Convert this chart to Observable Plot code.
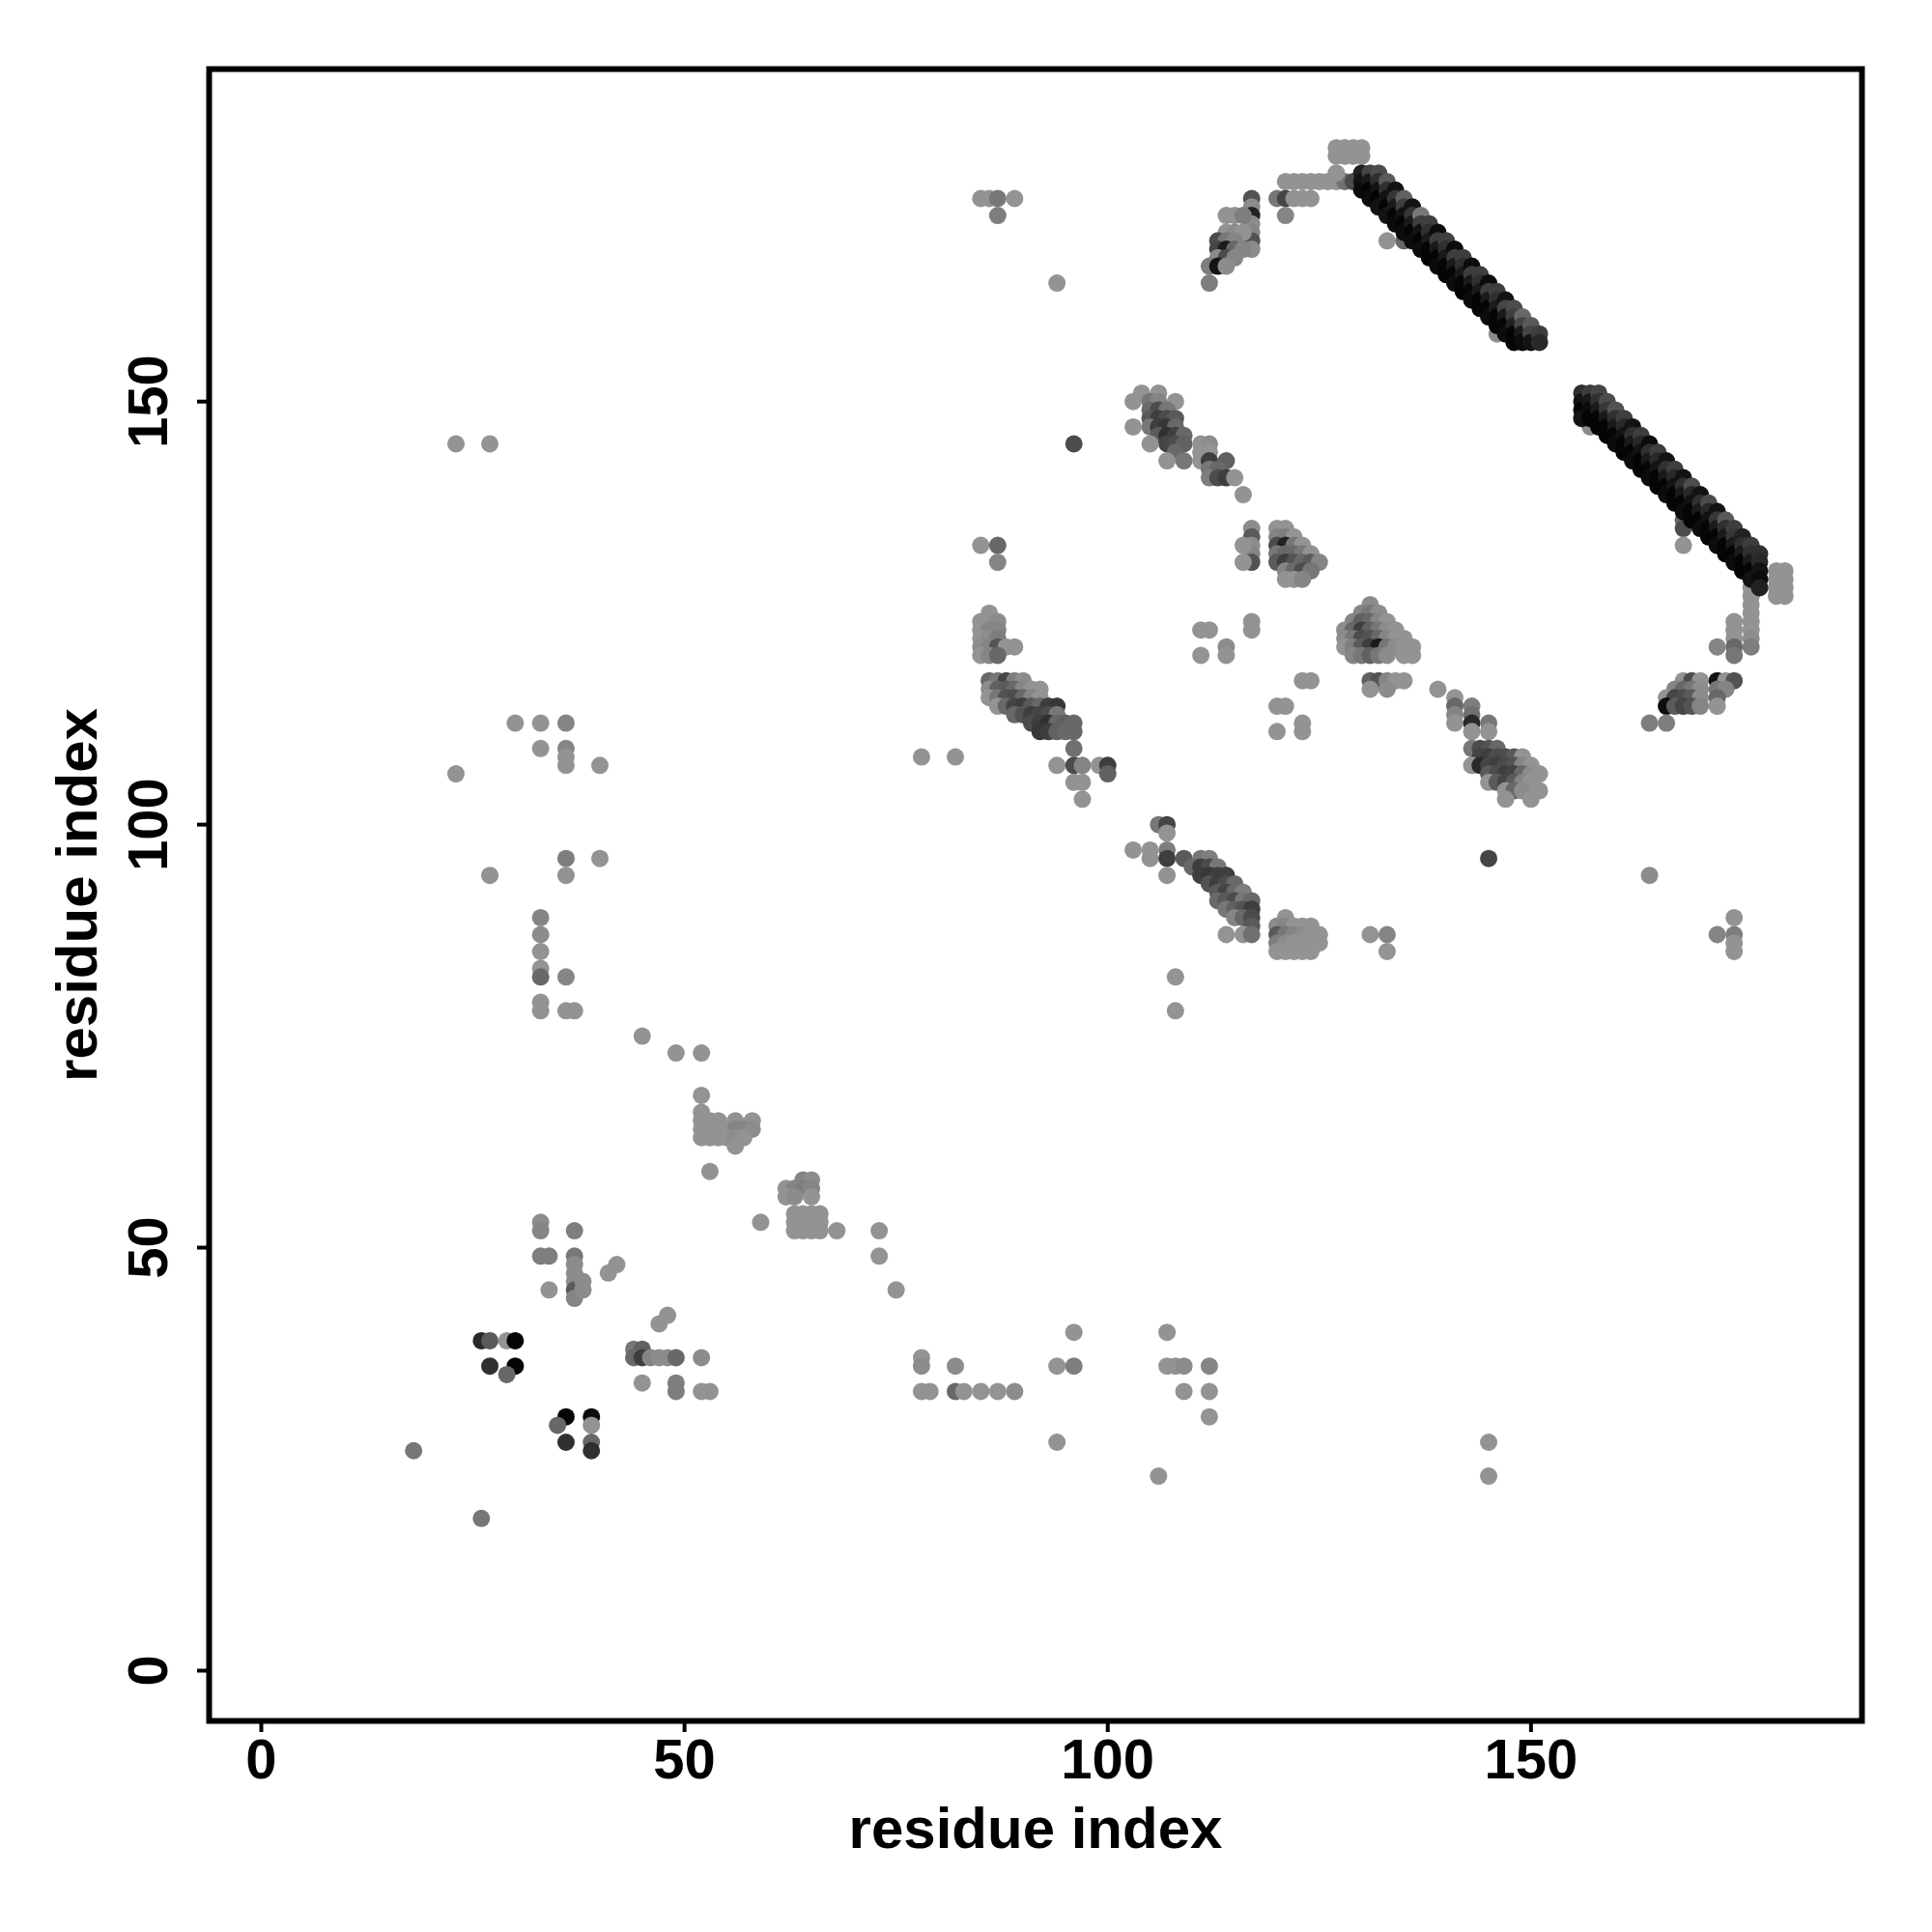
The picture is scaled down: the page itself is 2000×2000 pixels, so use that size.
<!DOCTYPE html>
<html>
<head>
<meta charset="utf-8">
<script src="https://cdn.jsdelivr.net/npm/d3@7"></script>
<script src="https://cdn.jsdelivr.net/npm/@observablehq/plot@0.6"></script>
<style>
  html, body { margin: 0; padding: 0; background: #ffffff; }
  #chart svg { display: block; }
</style>
</head>
<body>
<div id="chart"></div>
<script>
// Contact map: [residue i, residue j, contact strength 0..1]
const lowerLeftContacts = [
  [23,145,0],[27,145,0],
  [30,112,0],[33,112,0],[36,112,0.1],[33,109,0],[36,109,0.1],[36,108,0],[36,107,0],
  [40,107,0],[23,106,0],
  [36,96,0.15],[40,96,0],[27,94,0],[36,94,0],
  [33,89,0.1],[33,87,0.05],[33,85,0],[33,83,0],[33,82,0.3],[36,82,0.1],[33,79,0],[33,78,0],[36,78,0],[37,78,0],
  [45,75,0],[49,73,0],[52,73,0],[52,68,0],[52,66,0],
  [52,65,0],[53,65,0],[54,65,0],[56,65,0],[58,65,0],[52,64,0],[53,64,0],[54,64,0],[55,64,0],[56,64,0.1],[57,64,0.1],[58,64,0.05],
  [52,63,0],[53,63,0],[54,63,0],[55,63,0],[56,63,0.05],[57,63,0],[56,62,0],
  [53,59,0],[59,53,0],
  [64,58,0.1],[65,58,0.05],[62,57,0],[63,57,0.1],[64,57,0.15],[65,57,0.1],[62,56,0],[63,56,0.05],[65,56,0],
  [63,54,0],[64,54,0],[65,54,0],[66,54,0],[63,53,0],[64,53,0],[65,53,0],[66,53,0],
  [63,52,0],[64,52,0],[65,52,0],[66,52,0],[68,52,0],
  [73,52,0],[73,49,0],[75,45,0],
  [33,53,0.05],[33,52,0.1],[37,52,0.15],[33,49,0.15],[34,49,0.15],[37,49,0.2],[37,48,0.05],[37,47,0.05],[37,46,0.05],
  [37,45,0.4],[37,44,0.1],[38,46,0.05],[38,45,0.05],[34,45,0],[41,47,0],[42,48,0],
  [26,39,0.75],[27,39,0.4],[29,39,0],[30,39,1],[27,36,0.7],[30,36,1],[29,35,0.3],
  [44,38,0.2],[45,38,0.35],[44,37,0.3],[45,37,0.6],[46,37,0.1],[47,37,0.05],[48,37,0.05],[49,37,0.3],[52,37,0.05],
  [47,41,0],[48,42,0],[45,34,0],[49,34,0.15],[49,33,0.15],[52,33,0],[53,33,0],
  [36,30,1],[39,30,0.95],[35,29,0.3],[39,29,0],[36,27,0.7],[39,27,0.3],[39,26,0.7],
  [18,26,0.2],[26,18,0.2]
];

const bottomRowContacts = [
  [78,37,0],[78,36,0.05],[82,36,0.05],[78,33,0],[79,33,0],[82,33,0.3],[83,33,0],[85,33,0],[87,33,0],[89,33,0.05],
  [94,36,0],[96,36,0.15],[96,40,0],[107,40,0],[107,36,0],[108,36,0],[109,36,0.05],[112,36,0.1],
  [109,33,0],[112,33,0],[112,30,0],[94,27,0],[106,23,0],[145,27,0],[145,23,0]
];

const middleContacts = [
  [86,125,0],[85,124,0],[86,124,0],[87,124,0.05],[85,123,0],[86,123,0.1],[87,123,0.1],[85,122,0],[86,122,0.05],[87,122,0.15],
  [85,121,0.05],[86,121,0.1],[87,121,0.45],[88,121,0],[89,121,0],[85,120,0],[86,120,0.1],[87,120,0.3],
  [86,117,0.3],[87,117,0.2],[88,117,0.55],[89,117,0.15],[90,117,0.05],
  [86,116,0.05],[87,116,0.35],[88,116,0.4],[89,116,0.3],[90,116,0.1],[91,116,0],[92,116,0],
  [86,115,0],[87,115,0.2],[88,115,0.45],[89,115,0.5],[90,115,0.3],[91,115,0.1],[92,115,0],
  [87,114,0],[88,114,0.3],[89,114,0.55],[90,114,0.6],[91,114,0.4],[92,114,0.3],[93,114,0.6],[94,114,0.65],
  [89,113,0.3],[90,113,0.45],[91,113,0.6],[92,113,0.55],[93,113,0.5],[94,113,0.2],
  [91,112,0.5],[92,112,0.6],[93,112,0.7],[94,112,0.3],[95,112,0.35],[96,112,0.3],
  [92,111,0.65],[93,111,0.6],[94,111,0.35],[95,111,0.3],[96,111,0.3],
  [96,109,0.25],
  [94,107,0],[96,107,0.5],[97,107,0.1],[99,107,0],[100,107,0.6],[100,106,0.35],
  [96,105,0],[97,105,0],[97,103,0],[78,108,0],[82,108,0],
  [111,123,0],[112,123,0],[117,124,0],[117,123,0],[111,120,0],[114,121,0.05],[114,120,0],
  [123,117,0],[124,117,0],[120,114,0],[121,114,0],[120,111,0],[123,112,0],[123,111,0]
];

const topLeftContacts = [
  [85,174,0],[86,174,0],[87,174,0.2],[89,174,0],[87,172,0.15],[94,164,0],
  [117,174,0.45],[117,173,0.05],[117,172,0.8],[117,171,0.05],[117,170,0.1],[117,169,0.45],[117,168,0.05],
  [114,172,0],[115,172,0],[116,172,0.15],[114,170,0],[115,170,0.05],[116,170,0],
  [113,169,0.5],[114,169,0.2],[115,169,0.1],[113,168,0.55],[114,168,0.85],[115,168,0.3],[116,168,0.1],
  [113,167,0.05],[114,167,0.5],[115,167,0.1],[112,166,0.15],[113,166,0.9],[114,166,0.05],[112,164,0.15],
  [121,176,0],[122,176,0],[123,176,0],[124,176,0],[125,176,0],[126,176,0],[127,176,0],[128,176,0.25],[129,176,0.5],
  [120,174,0.2],[121,174,0.55],[122,174,0],[123,174,0],[124,174,0],[121,172,0.1],[127,177,0],
  [127,180,0],[128,180,0],[129,180,0],[130,180,0],[127,179,0],[128,179,0],[129,179,0],[130,179,0],
  [104,151,0],[106,151,0],[103,150,0],[105,150,0.2],[106,150,0.1],[108,150,0],[105,149,0.3],[106,149,0.5],[107,149,0.2],
  [105,148,0.4],[106,148,0.6],[107,148,0.5],[108,148,0.4],[103,147,0],[105,147,0.2],[106,147,0.6],[107,147,0.65],[108,147,0.3],
  [106,146,0.4],[107,146,0.7],[108,146,0.6],[109,146,0.3],[107,145,0.55],[108,145,0.5],[109,145,0.35],[105,145,0],
  [108,144,0.3],[107,143,0],[109,143,0.2],[96,145,0.5],
  [111,145,0],[112,145,0.05],[111,144,0],[112,144,0],[111,143,0],[112,143,0.6],[114,143,0.35],[112,142,0.2],[113,142,0.3],
  [112,141,0.15],[113,141,0.5],[114,141,0.6],[115,141,0],[116,139,0],
  [85,133,0],[87,133,0.3],[87,131,0.1],
  [117,135,0.05],[117,134,0.4],[117,133,0.05],[117,132,0.1],[117,131,0.45],[116,133,0],[116,131,0],
  [120,135,0],[121,135,0],[120,134,0.1],[121,134,0.15],[122,134,0],[120,133,0.5],[121,133,0.8],[122,133,0.2],[123,133,0],
  [120,132,0.2],[121,132,0.3],[122,132,0.3],[123,132,0.2],[124,132,0],[120,131,0.4],[121,131,0.6],[122,131,0.45],
  [123,131,0.3],[124,131,0.4],[125,131,0.1],[121,130,0.1],[122,130,0.3],[123,130,0.5],[124,130,0.2],
  [121,129,0],[122,129,0],[123,129,0.1]
];

const rightContacts = [
  [131,126,0.05],[130,125,0.1],[131,125,0.2],[132,125,0.05],
  [129,124,0.1],[130,124,0.35],[131,124,0.3],[132,124,0.1],[133,124,0],
  [128,123,0.05],[129,123,0.3],[130,123,0.6],[131,123,0.35],[132,123,0.2],[133,123,0.05],[134,123,0],
  [128,122,0.05],[129,122,0.2],[130,122,0.5],[131,122,0.45],[132,122,0.3],[133,122,0.1],[134,122,0],[135,122,0],
  [128,121,0],[129,121,0.15],[130,121,0.4],[131,121,0.6],[132,121,0.85],[133,121,0.2],[134,121,0.05],[135,121,0],[136,121,0],
  [129,120,0.1],[130,120,0.2],[131,120,0.35],[132,120,0.2],[133,120,0.05],[135,120,0],[136,120,0],
  [131,117,0.35],[132,117,0.45],[133,117,0.1],[134,117,0],[135,117,0],[131,116,0],[133,116,0.05],[139,116,0],
  [141,115,0],[141,114,0.3],[141,113,0.1],[141,112,0],[143,114,0.15],[143,113,0.25],[143,112,0.75],[143,111,0],[145,112,0.2],[145,111,0],
  [143,109,0.2],[144,109,0.5],[145,109,0.45],[146,109,0.3],
  [144,108,0.55],[145,108,0.6],[146,108,0.5],[147,108,0.5],[148,108,0.4],[149,108,0],
  [143,107,0],[144,107,0.75],[145,107,0.55],[146,107,0.6],[147,107,0.5],[148,107,0.45],[149,107,0.1],[150,107,0],
  [145,106,0.4],[146,106,0.5],[147,106,0.6],[148,106,0.55],[149,106,0.3],[150,106,0.05],[151,106,0],
  [145,105,0],[146,105,0.4],[147,105,0.55],[148,105,0.4],[149,105,0.1],[150,105,0],
  [147,104,0],[148,104,0.3],[149,104,0.05],[151,104,0],[147,103,0],[150,103,0],
  [145,96,0.55],[164,94,0.05],
  [176,128,0],[176,127,0],[176,126,0],[176,125,0],[176,124,0],[176,123,0],[176,122,0.05],[176,121,0.15],
  [174,124,0],[174,123,0],[174,122,0],[174,121,0.3],[174,120,0.2],[172,121,0.1],
  [168,117,0],[169,117,0.5],[170,117,0],[172,117,0.9],[173,117,0],[174,117,0.45],
  [167,116,0.1],[168,116,0.3],[169,116,0.2],[170,116,0.05],[172,116,0.2],[173,116,0.1],
  [166,115,0],[167,115,0.55],[168,115,0.5],[169,115,0.4],[170,115,0.05],[172,115,0.3],
  [166,114,0.95],[167,114,0.4],[168,114,0.55],[169,114,0.45],[170,114,0.1],[172,114,0],
  [164,112,0.15],[166,112,0.15],
  [179,130,0],[180,130,0],[179,129,0],[180,129,0],[179,128,0],[180,128,0],[179,127,0],[180,127,0],
  [174,89,0],[172,87,0.1],[174,87,0.15],[174,86,0],[174,85,0],
  [106,100,0.2],[107,100,0.55],[107,99,0],[103,97,0],[105,97,0],[105,96,0],[107,97,0.15],[107,96,0.6],[109,96,0.4],[107,94,0],
  [111,96,0.2],[112,96,0.15],[110,95,0.3],[111,95,0.6],[112,95,0.5],[113,95,0.2],
  [111,94,0.6],[112,94,0.65],[113,94,0.6],[114,94,0.6],[112,93,0.45],[113,93,0.6],[114,93,0.5],[115,93,0.3],
  [113,92,0.4],[114,92,0.55],[115,92,0.3],[116,92,0.15],[113,91,0.3],[114,91,0.4],[115,91,0.5],[116,91,0.2],[117,91,0.3],
  [114,90,0.2],[115,90,0.35],[116,90,0.45],[117,90,0.6],[115,89,0.1],[116,89,0.3],[117,89,0.5],[117,88,0.4],
  [114,87,0],[116,87,0],[117,87,0.25],[108,82,0],[108,78,0],
  [121,89,0],[120,88,0.05],[121,88,0.1],[122,88,0],[123,88,0],[124,88,0],[120,87,0.4],[121,87,0.2],[122,87,0.1],[123,87,0.05],
  [124,87,0],[125,87,0],[120,86,0.15],[121,86,0.05],[122,86,0],[123,86,0],[124,86,0],[125,86,0],
  [120,85,0],[121,85,0],[122,85,0],[123,85,0],[124,85,0],[131,87,0],[133,87,0.1],[133,85,0]
];

const upperSheet = [
  [133,169,0],[135,169,0.3],[146,158,0.05],
  [130,177,0.8],[130,176,0.9],[130,175,0.95],
  [131,177,0.55],[131,176,0.85],[131,175,1],[131,174,0.95],
  [132,177,0.5],[132,176,0.7],[132,175,0.9],[132,174,1],[132,173,0.9],
  [133,176,0.4],[133,175,0.7],[133,174,0.9],[133,173,1],[133,172,0.9],
  [134,175,0.9],[134,174,0.65],[134,173,0.85],[134,172,1],[134,171,0.95],
  [135,174,0.35],[135,173,0.6],[135,172,0.9],[135,171,1],[135,170,0.95],
  [136,173,0.9],[136,172,0.65],[136,171,0.85],[136,170,1],[136,169,0.95],
  [137,172,0.2],[137,171,0.6],[137,170,0.9],[137,169,1],[137,168,0.95],
  [138,171,0.6],[138,170,0.7],[138,169,0.85],[138,168,1],[138,167,1],
  [139,170,0.95],[139,169,0.6],[139,168,0.85],[139,167,1],[139,166,0.95],
  [140,169,0.6],[140,168,0.7],[140,167,0.85],[140,166,1],[140,165,1],
  [141,168,0.95],[141,167,0.6],[141,166,0.85],[141,165,1],[141,164,0.95],
  [142,167,0.6],[142,166,0.7],[142,165,0.85],[142,164,1],[142,163,1],
  [143,166,0.95],[143,165,0.6],[143,164,0.85],[143,163,1],[143,162,0.95],
  [144,165,0.6],[144,164,0.7],[144,163,0.85],[144,162,1],[144,161,1],
  [145,164,0.95],[145,163,0.6],[145,162,0.85],[145,161,1],[145,160,0.95],
  [146,163,0.6],[146,162,0.7],[146,161,0.85],[146,160,1],[146,159,1],
  [147,162,0.9],[147,161,0.55],[147,160,0.85],[147,159,1],[147,158,0.95],
  [148,161,0.5],[148,160,0.6],[148,159,0.8],[148,158,1],[148,157,1],
  [149,160,0.3],[149,159,0.55],[149,158,0.85],[149,157,0.95],
  [150,159,0.4],[150,158,0.55],[150,157,0.9],
  [151,158,0.6],[151,157,0.75]
];

const lowerSheet = [
  [157,147,0.05],[168,136,0.3],[168,135,0.5],[168,133,0],
  [156,151,0.7],[156,150,0.9],[156,149,1],[156,148,0.9],
  [157,151,0.6],[157,150,0.85],[157,149,0.95],[157,148,1],
  [158,151,0.55],[158,150,0.7],[158,149,0.85],[158,148,1],[158,147,1],
  [159,150,0.5],[159,149,0.65],[159,148,0.85],[159,147,1],[159,146,1],
  [160,149,0.45],[160,148,0.7],[160,147,0.85],[160,146,1],[160,145,0.95],
  [161,148,0.6],[161,147,0.75],[161,146,0.9],[161,145,1],[161,144,1],
  [162,147,0.9],[162,146,0.7],[162,145,0.85],[162,144,1],[162,143,0.95],
  [163,146,0.6],[163,145,0.75],[163,144,0.9],[163,143,1],[163,142,1],
  [164,145,0.95],[164,144,0.7],[164,143,0.85],[164,142,1],[164,141,0.95],
  [165,144,0.6],[165,143,0.75],[165,142,0.9],[165,141,1],[165,140,1],
  [166,143,0.9],[166,142,0.7],[166,141,0.85],[166,140,1],[166,139,0.95],
  [167,142,0.6],[167,141,0.75],[167,140,0.9],[167,139,1],[167,138,1],
  [168,141,0.9],[168,140,0.7],[168,139,0.85],[168,138,1],[168,137,0.95],
  [169,140,0.5],[169,139,0.75],[169,138,0.9],[169,137,1],[169,136,1],
  [170,139,0.9],[170,138,0.7],[170,137,0.85],[170,136,1],[170,135,0.95],
  [171,138,0.5],[171,137,0.75],[171,136,0.9],[171,135,1],[171,134,1],
  [172,137,0.9],[172,136,0.65],[172,135,0.85],[172,134,1],[172,133,0.95],
  [173,136,0.4],[173,135,0.7],[173,134,0.85],[173,133,1],[173,132,1],
  [174,135,0.6],[174,134,0.65],[174,133,0.85],[174,132,1],[174,131,0.95],
  [175,134,0.8],[175,133,0.7],[175,132,0.85],[175,131,1],[175,130,1],
  [176,133,0.6],[176,132,0.7],[176,131,0.85],[176,130,1],[176,129,0.9],
  [177,132,0.7],[177,131,0.75],[177,130,0.9],[177,129,0.95],[177,128,0.8]
];

const xTicks = [0, 50, 100, 150];
const yTicks = [0, 50, 100, 150];
const axisTitle = "residue index";

const contacts = [
  ...lowerLeftContacts, ...bottomRowContacts, ...middleContacts,
  ...topLeftContacts, ...rightContacts, ...upperSheet, ...lowerSheet
].map(([i, j, p]) => ({i, j, p}));

const chart = Plot.plot({
  width: 2000,
  height: 2000,
  marginLeft: 216,
  marginRight: 73,
  marginTop: 71,
  marginBottom: 219,
  style: {fontFamily: "'Liberation Sans', Arial, Helvetica, sans-serif", fontWeight: "bold", background: "white", color: "black"},
  x: {domain: [-6.16, 189.1]},
  y: {domain: [-5.94, 189.3]},
  color: {type: "linear", domain: [0, 1], range: ["#939393", "#050505"]},
  marks: [
    Plot.dot(contacts, {x: "i", y: "j", fill: "p", r: 9}),
    Plot.frame({stroke: "black", strokeWidth: 6}),
    Plot.axisX(xTicks, {tickSize: 12, tickPadding: 6, fontSize: 58, fontWeight: "bold", label: null, strokeWidth: 4}),
    Plot.axisY(yTicks, {tickSize: 12, tickPadding: 32, tickRotate: -90, fontSize: 58, fontWeight: "bold", label: null, strokeWidth: 4}),
    Plot.text([axisTitle], {frameAnchor: "bottom", dy: 112, lineAnchor: "middle", textAnchor: "middle", fontSize: 60, fontWeight: "bold"}),
    Plot.text([axisTitle], {frameAnchor: "left", dx: -136, rotate: -90, lineAnchor: "middle", textAnchor: "middle", fontSize: 60, fontWeight: "bold"})
  ]
});
document.getElementById("chart").appendChild(chart);
</script>
</body>
</html>
